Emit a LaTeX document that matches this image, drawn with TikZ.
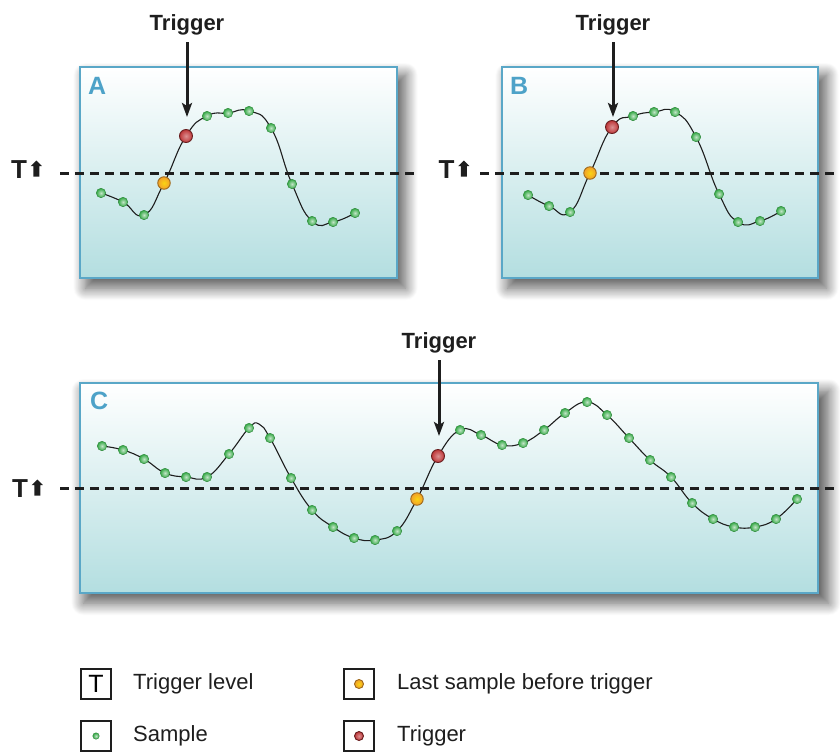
\documentclass[tikz,border=0pt]{standalone}
\usepackage{fontspec}
\setmainfont{Liberation Sans}
\usetikzlibrary{arrows.meta,positioning,shapes.arrows,shadows.blur}

\definecolor{panelline}{HTML}{5AA7C7}
\definecolor{panelbot}{HTML}{B3DEE0}
\definecolor{tagblue}{HTML}{4DA2C8}
\definecolor{smpgreen}{HTML}{34A845}
\definecolor{lastorange}{HTML}{F2A02A}
\definecolor{trgred}{HTML}{BE3638}
\definecolor{ink}{HTML}{1E1E1E}

\begin{document}
\begin{tikzpicture}[x=1pt, y=-1pt,
    panel/.style={draw=panelline, line width=2.5pt, top color=white, bottom color=panelbot, inner sep=0pt, outer sep=0pt,
      blur shadow={shadow xshift=7pt, shadow yshift=-9pt, shadow scale=1.01, shadow blur radius=12pt, shadow opacity=65, shadow blur steps=16}},
    tag/.style={font=\bfseries\fontsize{25}{25}\selectfont, text=tagblue, inner sep=2pt, anchor=north west},
    lvl/.style={font=\bfseries\fontsize{26}{26}\selectfont, text=ink, inner sep=0pt},
    uparr/.style={single arrow, shape border rotate=90, fill=ink, minimum height=16pt, inner sep=2.8pt,
      single arrow head extend=2.6pt, single arrow head indent=0pt},
    level/.style={line width=3pt, ink, dash pattern=on 9pt off 6pt},
    trig/.style={font=\bfseries\fontsize{22}{22}\selectfont, text=ink, inner sep=0pt, outer sep=0pt},
    trg/.style={line width=3pt, ink, shorten <=7pt, -{Stealth[length=14pt,width=10pt,inset=3pt]}},
    wave/.style={line width=1.1pt, ink},
    smp/.style={circle, inner sep=0pt, minimum size=9.5pt, inner color=smpgreen!30!white, outer color=smpgreen, draw=smpgreen!80!black, line width=0.4pt},
    last/.style={circle, inner sep=0pt, minimum size=12.5pt, inner color=lastorange!45!yellow, outer color=lastorange, draw=lastorange!65!black, line width=0.9pt},
    hit/.style={circle, inner sep=0pt, minimum size=13pt, inner color=trgred!55!white, outer color=trgred, draw=trgred!55!black, line width=0.9pt},
    key/.style={draw=ink, line width=2pt, minimum size=30pt, inner sep=0pt},
    keytext/.style={font=\fontsize{22}{22}\selectfont, text=ink, inner sep=0pt}]
  \useasboundingbox (0,0) rectangle (840,753);

  % panels
  \node[panel, minimum width=317pt, minimum height=211pt] (pA) at (238.5,172.5) {};
  \node[panel, minimum width=316pt, minimum height=211pt] (pB) at (660,172.5) {};
  \node[panel, minimum width=738pt, minimum height=210pt] (pC) at (449,488) {};
  \node[tag] (lA) at ([xshift=6pt,yshift=-8pt]pA.north west) {A};
  \node[tag] (lB) at ([xshift=6pt,yshift=-8pt]pB.north west) {B};
  \node[tag] (lC) at ([xshift=8pt,yshift=-7pt]pC.north west) {C};

  % trigger levels
  \node[lvl] (tA) at (19,170) {T};
  \node[lvl] (tB) at (446.5,170) {T};
  \node[lvl] (tC) at (20,489) {T};
  \node[uparr, right=6pt of tA] (uA) {};
  \node[uparr, right=6pt of tB] (uB) {};
  \node[uparr, right=6pt of tC] (uC) {};
  \coordinate (lA0) at (60,173);  \coordinate (lA1) at (419,173);
  \coordinate (lB0) at (480,173); \coordinate (lB1) at (840,173);
  \coordinate (lC0) at (60,488);  \coordinate (lC1) at (840,488);
  \draw[level] (lA0) -- (lA1);
  \draw[level] (lB0) -- (lB1);
  \draw[level] (lC0) -- (lC1);

  % samples
  \foreach \px/\py [count=\i] in {101/193, 123/202, 144/215, 164/183, 186/136, 207/116, 228/113,
      249/111, 271/128, 292/184, 312/221, 333/222, 355/213}
    \coordinate (a\i) at (\px,\py);
  \foreach \px/\py [count=\i] in {528/195, 549/206, 570/212, 590/173, 612/127, 633/116, 654/112,
      675/112, 696/137, 719/194, 738/222, 760/221, 781/211}
    \coordinate (b\i) at (\px,\py);
  \foreach \px/\py [count=\i] in {102/446, 123/450, 144/459, 165/473, 186/477, 207/477, 229/454,
      249/428, 270/438, 291/478, 312/510, 333/527, 354/538, 375/540, 397/531, 417/499, 438/456,
      460/430, 481/435, 502/445, 523/443, 544/430, 565/413, 587/402, 607/415, 629/438, 650/460,
      671/477, 692/503, 713/519, 734/527, 755/527, 776/519, 797/499}
    \coordinate (c\i) at (\px,\py);
  \coordinate (cpk) at (259,424);

  \draw[wave] plot[smooth, tension=0.85] coordinates {(a1) (a2) (a3) (a4) (a5) (a6) (a7) (a8) (a9) (a10) (a11) (a12) (a13)};
  \draw[wave] plot[smooth, tension=0.85] coordinates {(b1) (b2) (b3) (b4) (b5) (b6) (b7) (b8) (b9) (b10) (b11) (b12) (b13)};
  \draw[wave] plot[smooth, tension=0.75] coordinates {(c1) (c2) (c3) (c4) (c5) (c6) (c7) (c8) (cpk) (c9) (c10) (c11) (c12)
    (c13) (c14) (c15) (c16) (c17) (c18) (c19) (c20) (c21) (c22) (c23) (c24) (c25) (c26) (c27) (c28) (c29)
    (c30) (c31) (c32) (c33) (c34)};

  \foreach \i in {1,2,3,6,7,8,9,10,11,12,13} {
    \node[smp] (sa\i) at (a\i) {};
    \node[smp] (sb\i) at (b\i) {};
  }
  \foreach \i in {1,...,15,18,19,...,34}
    \node[smp] (sc\i) at (c\i) {};
  \node[last] (oA) at (a4) {};
  \node[hit] (rA) at (a5) {};
  \node[last] (oB) at (b4) {};
  \node[hit] (rB) at (b5) {};
  \node[last] (oC) at (c16) {};
  \node[hit] (rC) at (c17) {};

  % trigger arrows
  \node[trig] (tgA) at (187,25) {Trigger};
  \node[trig] (tgB) at (613,25) {Trigger};
  \node[trig] (tgC) at (439,343) {Trigger};
  \coordinate (hA) at (187,117);
  \coordinate (hB) at (613,117);
  \coordinate (hC) at (439,436);
  \draw[trg] (tgA) -- (hA);
  \draw[trg] (tgB) -- (hB);
  \draw[trg] (tgC) -- (hC);

  % legend
  \node[key] (kT) at (96,684) {\fontsize{25}{25}\selectfont T};
  \node[key] (kS) at (96,736) {};
  \node[key] (kL) at (359,684) {};
  \node[key] (kR) at (359,736) {};
  \node[smp, minimum size=6.5pt] (kSd) at (kS) {};
  \node[last, minimum size=9pt] (kLd) at (kL) {};
  \node[hit, minimum size=9pt] (kRd) at (kR) {};
  \node[keytext, right=21pt of kT] (kTt) {Trigger level};
  \node[keytext, right=21pt of kS] (kSt) {Sample};
  \node[keytext, right=22pt of kL] (kLt) {Last sample before trigger};
  \node[keytext, right=22pt of kR] (kRt) {Trigger};
\end{tikzpicture}
\end{document}
